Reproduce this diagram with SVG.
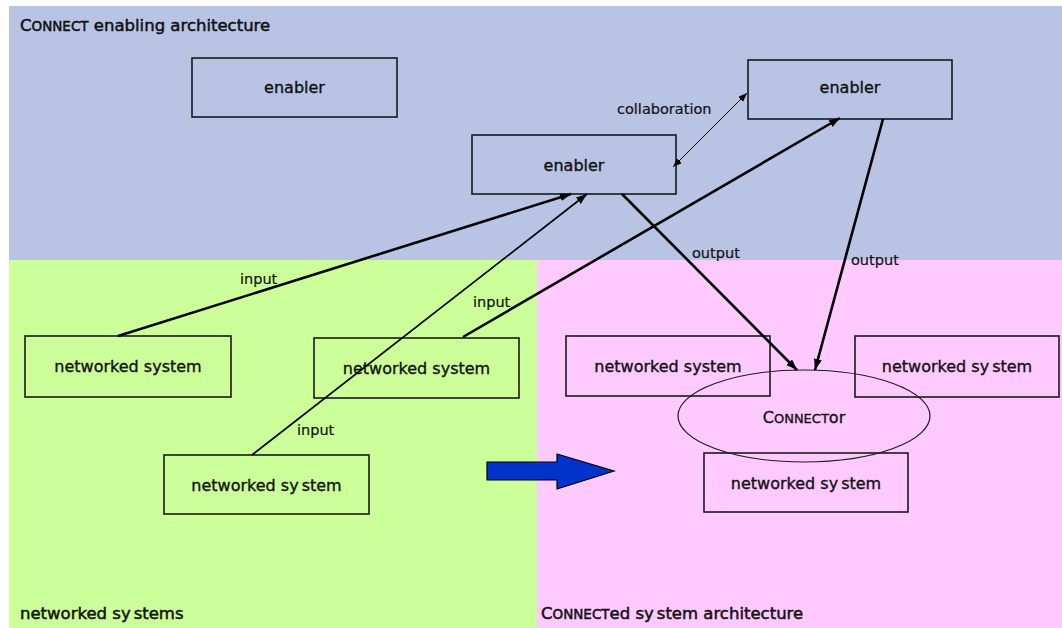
<svg xmlns="http://www.w3.org/2000/svg" width="1062" height="628" viewBox="0 0 1062 628">
<style>
text{font-family:"DejaVu Sans","Liberation Sans",sans-serif;fill:#111;stroke:#111;stroke-width:0.35;}
.box{fill:none;stroke:#1a1a1a;stroke-width:1.6;}
.bt{font-size:16px;text-anchor:middle;}
.lbl{font-size:14.5px;stroke-width:0.2;}
.sec{font-size:16.5px;stroke-width:0.5;}
.thick{stroke:#000;stroke-width:2.6;fill:none;marker-end:url(#ah);}
.mid{stroke:#000;stroke-width:1.7;fill:none;marker-end:url(#ah);}
.thin{stroke:#000;stroke-width:1;fill:none;marker-end:url(#ah2);marker-start:url(#ah2);}
</style>
<defs>
<marker id="ah" markerUnits="userSpaceOnUse" markerWidth="12" markerHeight="10" refX="11" refY="4" orient="auto"><path d="M0,0 L11,4 L0,8 z" fill="#000"/></marker>
<marker id="ah2" markerUnits="userSpaceOnUse" markerWidth="10" markerHeight="8" refX="9" refY="3.5" orient="auto-start-reverse"><path d="M0,0 L9,3.5 L0,7 z" fill="#000"/></marker>
</defs>
<g id="backgrounds">
<rect x="9" y="6" width="1053" height="254" fill="#b9c4e4"/>
<rect x="9" y="260" width="528" height="368" fill="#ccff99"/>
<rect x="537" y="260" width="525" height="368" fill="#ffcaff"/>
<text class="sec" x="20" y="31">C<tspan font-size="13.5">ONNECT</tspan> enabling architecture</text>
<text class="sec" x="20" y="619">networked sy<tspan dx="3">stems</tspan></text>
<text class="sec" x="541" y="619">C<tspan font-size="13.5">ONNECT</tspan>ed sy<tspan dx="3">stem architecture</tspan></text>
</g>
<g id="big-arrow">
<polygon points="487,462 557,462 557,454 614,471 557,489 557,480 487,480" fill="#0033cc" stroke="#000" stroke-width="1.2"/>
</g>
<g id="enabler-tl"><rect class="box" x="192" y="58" width="205" height="59"/><text class="bt" x="294.5" y="93">enabler</text></g>
<g id="enabler-tr"><rect class="box" x="748" y="60" width="204" height="59"/><text class="bt" x="850" y="93">enabler</text></g>
<g id="enabler-mid"><rect class="box" x="472" y="135" width="204" height="59"/><text class="bt" x="574" y="171">enabler</text></g>
<g id="ns1"><rect class="box" x="25" y="336" width="206" height="61"/><text class="bt" x="128" y="372">networked system</text></g>
<g id="ns2"><rect class="box" x="314" y="338" width="205" height="60"/><text class="bt" x="416.5" y="374">networked system</text></g>
<g id="ns3"><rect class="box" x="164" y="455" width="205" height="59"/><text class="bt" x="266.5" y="491">networked sy<tspan dx="3">stem</tspan></text></g>
<g id="rns1"><rect class="box" x="566" y="336" width="204" height="60"/><text class="bt" x="668" y="372">networked system</text></g>
<g id="rns2"><rect class="box" x="855" y="336" width="204" height="61"/><text class="bt" x="957" y="372">networked sy<tspan dx="3">stem</tspan></text></g>
<g id="rns3"><rect class="box" x="704" y="453" width="204" height="59"/><text class="bt" x="806" y="489">networked sy<tspan dx="3">stem</tspan></text></g>
<g id="connector"><ellipse cx="804" cy="416" rx="126" ry="46" fill="none" stroke="#1a1a1a" stroke-width="1.2"/><text class="bt" x="804" y="423">C<tspan font-size="13">ONNECT</tspan>or</text></g>
<g id="connectors">
<path class="thick" d="M118,336 L571,194"/>
<path class="mid" d="M252,455 L587,194"/>
<path class="thick" d="M463,337 L840,118"/>
<path class="thin" d="M673,167 L747,93"/>
<path class="thick" d="M622,194 L797,370"/>
<path class="thick" d="M883,119 L815,370"/>
<text class="lbl" x="240" y="284">input</text>
<text class="lbl" x="473" y="307">input</text>
<text class="lbl" x="297" y="435">input</text>
<text class="lbl" x="692" y="258">output</text>
<text class="lbl" x="851" y="265">output</text>
<text class="lbl" x="617" y="114" font-size="15">collaboration</text>
</g>
</svg>
